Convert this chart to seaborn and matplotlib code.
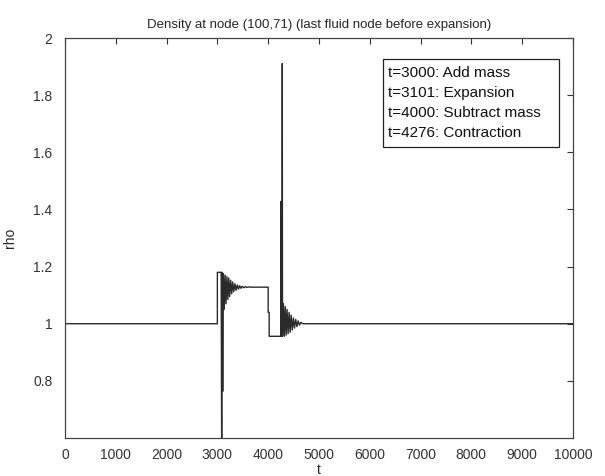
import matplotlib
matplotlib.use("Agg")
import matplotlib.pyplot as plt
from matplotlib.patches import Rectangle
import seaborn as sns
import pandas as pd

t_vals = [0, 3000, 3000, 3075, 3085, 3095, 3105, 3118, 3135, 3152, 3170, 3188,
          3206, 3224, 3242, 3262, 3282, 3302, 3322, 3345, 3368, 3392, 3416,
          3440, 3465, 3490, 3520, 3550, 3580, 3620, 3660, 4000, 4000, 4020,
          4020, 4248, 4252, 4256, 4274, 4278, 4282, 4300, 4318, 4336, 4354,
          4372, 4392, 4412, 4432, 4452, 4474, 4496, 4518, 4542, 4566, 4590,
          4616, 4645, 4680, 10000]
rho_vals = [1.0, 1.0, 1.18, 1.18, 0.55, 1.18, 0.763, 1.175, 1.05, 1.17, 1.07,
            1.165, 1.085, 1.16, 1.095, 1.152, 1.105, 1.146, 1.112, 1.14, 1.117,
            1.136, 1.121, 1.133, 1.124, 1.131, 1.126, 1.13, 1.127, 1.129, 1.128,
            1.128, 1.04, 1.04, 0.956, 0.956, 1.428, 0.956, 0.956, 1.911, 0.956,
            1.07, 0.956, 1.06, 0.96, 1.05, 0.965, 1.04, 0.97, 1.03, 0.978,
            1.02, 0.985, 1.015, 0.99, 1.01, 0.995, 1.005, 1.0, 1.0]

title = "Density at node (100,71) (last fluid node before expansion)"
notes = ["t=3000: Add mass", "t=3101: Expansion", "t=4000: Subtract mass",
         "t=4276: Contraction"]
xticks = [0, 1000, 2000, 3000, 4000, 5000, 6000, 7000, 8000, 9000, 10000]
yticks = [0.8, 1.0, 1.2, 1.4, 1.6, 1.8, 2.0]
ytick_labels = ["0.8", "1", "1.2", "1.4", "1.6", "1.8", "2"]

sns.set_style("white")
plt.rcParams['font.family'] = ['Liberation Sans', 'DejaVu Sans']

df = pd.DataFrame({"t": t_vals, "rho": rho_vals})

fig = plt.figure(figsize=(6.05, 4.76), dpi=100)
ax = fig.add_axes([0.1074, 0.0798, 0.8396, 0.8403])
sns.lineplot(data=df, x="t", y="rho", sort=False, estimator=None,
             color="#2a2a2a", linewidth=1.0, ax=ax)

ax.set_xlim(0, 10000)
ax.set_ylim(0.6, 2.0)
ax.set_xticks(xticks)
ax.set_xticklabels([str(v) for v in xticks])
ax.set_yticks(yticks)
ax.set_yticklabels(ytick_labels)
ax.tick_params(direction="in", length=4, width=0.8, top=True, right=True,
               labelsize=10, colors="#333333", pad=7)
ax.tick_params(axis="y", pad=9)
for s in ax.spines.values():
    s.set_color("#444444")
    s.set_linewidth(0.9)
ax.set_xlabel("t", fontsize=10, labelpad=1)
ax.set_ylabel("rho", fontsize=10, labelpad=12)
ax.set_title(title, fontsize=9.5, pad=7)

ax.add_patch(Rectangle((0.626, 0.7275), 0.346, 0.22, transform=ax.transAxes,
                       facecolor="white", edgecolor="#222222", linewidth=0.9,
                       zorder=5))
line_y = [0.9125, 0.8625, 0.8125, 0.7625]
for txt, yy in zip(notes, line_y):
    ax.text(0.635, yy, txt, transform=ax.transAxes, fontsize=11,
            va="center", ha="left", color="#111111", zorder=6)

fig.savefig("out.png", dpi=100)
